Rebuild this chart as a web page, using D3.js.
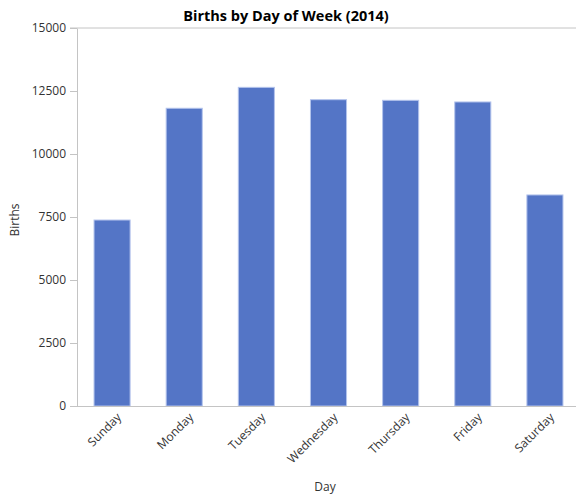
<!DOCTYPE html>
<html>
<head>
<meta charset="utf-8">
<script src="https://cdn.jsdelivr.net/npm/d3@7"></script>
<style>
  body { margin: 0; background: #fff; }
  text { font-family: "Open Sans", "Noto Sans", sans-serif; }
</style>
</head>
<body>
<div id="chart"></div>
<script>
// data
const days = ["Sunday", "Monday", "Tuesday", "Wednesday", "Thursday", "Friday", "Saturday"];
const births = [7380, 11815, 12645, 12155, 12130, 12065, 8375];
const yTicks = [0, 2500, 5000, 7500, 10000, 12500, 15000];

const W = 576, H = 495;
const margin = {top: 28, right: -5, bottom: 89, left: 76};

const svg = d3.select("#chart")
  .append("svg")
    .attr("width", W)
    .attr("height", H);

const x = d3.scaleBand()
  .domain(days)
  .range([margin.left, W - margin.right])
  .paddingInner(0.5)
  .paddingOuter(0.25);

const y = d3.scaleLinear()
  .domain([0, 15000])
  .range([H - margin.bottom, margin.top]);

// title
svg.append("text")
  .attr("x", 286)
  .attr("y", 21)
  .attr("text-anchor", "middle")
  .style("font-size", "14.5px")
  .style("font-weight", "bold")
  .style("fill", "#000")
  .text("Births by Day of Week (2014)");

// top border line
svg.append("line")
  .attr("x1", margin.left - 6).attr("x2", W)
  .attr("y1", y(15000)).attr("y2", y(15000))
  .style("stroke", "#c4c4c4");

// bars
svg.selectAll(".bar")
  .data(days)
  .join("rect")
  .attr("class", "bar")
  .attr("x", d => x(d))
  .attr("width", x.bandwidth())
  .attr("y", (d, i) => y(births[i]))
  .attr("height", (d, i) => y(0) - y(births[i]))
  .style("fill", "#5475c6")
  .style("stroke", "#b3c3ec")
  .style("stroke-width", 1);

// y axis
const yAxis = svg.append("g")
  .attr("transform", "translate(" + (margin.left + 1) + ",0)")
  .call(d3.axisLeft(y).tickValues(yTicks).tickFormat(d3.format("d"))
    .tickSize(7).tickSizeOuter(0).tickPadding(4));
yAxis.select(".domain").style("stroke", "#c4c4c4");
yAxis.selectAll(".tick line").style("stroke", "#c4c4c4");
yAxis.selectAll(".tick text")
  .style("font-size", "12px")
  .style("fill", "#333");

// x axis
const xAxis = svg.append("g")
  .attr("transform", "translate(0," + y(0) + ")")
  .call(d3.axisBottom(x).tickSize(0).tickSizeOuter(0));
xAxis.select(".domain").style("stroke", "#c4c4c4");
xAxis.selectAll(".tick text")
  .style("font-size", "12px")
  .style("fill", "#333")
  .attr("text-anchor", "end")
  .attr("dy", "0.35em")
  .attr("transform", "translate(7,9) rotate(-45)")
  .attr("y", 0)
  .attr("x", 0);

// axis titles
svg.append("text")
  .attr("x", 325)
  .attr("y", 491)
  .attr("text-anchor", "middle")
  .style("font-size", "12px")
  .style("fill", "#333")
  .text("Day");

svg.append("text")
  .attr("transform", "translate(19,220) rotate(-90)")
  .attr("text-anchor", "middle")
  .style("font-size", "12px")
  .style("fill", "#333")
  .text("Births");
</script>
</body>
</html>
